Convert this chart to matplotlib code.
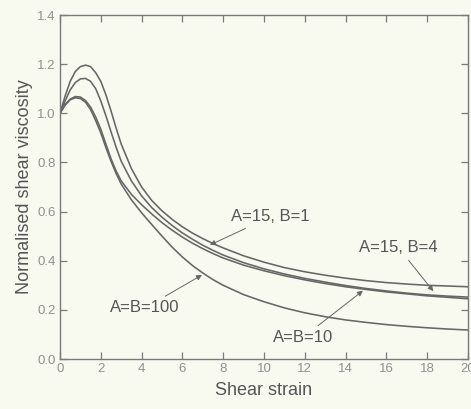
import matplotlib
matplotlib.use("Agg")
import matplotlib.pyplot as plt

plt.rcParams['font.family'] = ['Liberation Sans', 'DejaVu Sans']

# Shear strain sample positions
x_pts = [0, 0.25, 0.5, 0.75, 1.0, 1.25, 1.5, 1.75, 2.0, 2.25, 2.5, 2.75, 3.0,
         3.5, 4.0, 4.5, 5.0, 5.5, 6.0, 6.5, 7.0, 7.5, 8.0, 9.0, 10.0, 11.0,
         12.0, 13.0, 14.0, 15.0, 16.0, 17.0, 18.0, 19.0, 20.0]

# A=15, B=1
visc_a15_b1 = [1.0, 1.07, 1.13, 1.17, 1.19, 1.196, 1.19, 1.165, 1.13, 1.075, 1.01, 0.94, 0.875,
               0.775, 0.70, 0.645, 0.603, 0.568, 0.538, 0.512, 0.49, 0.47, 0.452, 0.42, 0.394, 0.372,
               0.355, 0.341, 0.329, 0.319, 0.311, 0.305, 0.300, 0.297, 0.294]
# A=15, B=4
visc_a15_b4 = [1.0, 1.05, 1.095, 1.125, 1.14, 1.142, 1.13, 1.10, 1.05, 0.99, 0.925, 0.862, 0.805,
               0.725, 0.664, 0.616, 0.577, 0.543, 0.513, 0.487, 0.463, 0.442, 0.423, 0.392, 0.367, 0.346,
               0.328, 0.313, 0.299, 0.287, 0.277, 0.268, 0.261, 0.256, 0.252]
# A=B=10
visc_a10_b10 = [1.0, 1.035, 1.058, 1.068, 1.066, 1.052, 1.025, 0.985, 0.935, 0.875, 0.815, 0.765, 0.725,
                0.67, 0.628, 0.59, 0.555, 0.524, 0.496, 0.471, 0.449, 0.429, 0.411, 0.382, 0.359, 0.339,
                0.322, 0.307, 0.294, 0.283, 0.273, 0.265, 0.257, 0.251, 0.245]
# A=B=100
visc_a100_b100 = [1.0, 1.033, 1.055, 1.063, 1.06, 1.045, 1.015, 0.97, 0.92, 0.86, 0.805, 0.755, 0.712,
                  0.648, 0.595, 0.547, 0.50, 0.455, 0.415, 0.38, 0.35, 0.323, 0.30, 0.262, 0.233, 0.208,
                  0.188, 0.172, 0.159, 0.149, 0.14, 0.133, 0.127, 0.122, 0.118]

x_ticks = [0, 2, 4, 6, 8, 10, 12, 14, 16, 18, 20]
y_ticks = [0.0, 0.2, 0.4, 0.6, 0.8, 1.0, 1.2, 1.4]

bg = '#f8faef'
line_c = '#666666'
axis_c = '#7a7a7a'
text_c = '#555555'

fig = plt.figure(figsize=(4.71, 4.09), dpi=100, facecolor=bg)
ax = fig.add_axes([60/471, 1-359/409, 408/471, 344/409], facecolor=bg)

for ys in (visc_a15_b1, visc_a15_b4, visc_a10_b10, visc_a100_b100):
    ax.plot(x_pts, ys, color=line_c, lw=1.15, solid_joinstyle='round')

ax.set_xlim(0, 20)
ax.set_ylim(0, 1.4)
ax.set_xticks(x_ticks)
ax.set_yticks(y_ticks)
ax.set_xticklabels([str(t) for t in x_ticks])
ax.set_yticklabels([f"{t:.1f}" for t in y_ticks])
ax.tick_params(direction='in', top=True, right=True, length=5, width=0.9,
               color=axis_c, labelcolor='#909090', labelsize=9.5, pad=3)
for s in ax.spines.values():
    s.set_color(axis_c)
    s.set_linewidth(1.0)

ax.set_xlabel('Shear strain', fontsize=13, color=text_c, labelpad=5)
ax.set_ylabel('Normalised shear viscosity', fontsize=13, color=text_c, labelpad=3)

arw = dict(arrowstyle='-|>', lw=0.7, color='#666666', mutation_scale=8, shrinkA=2, shrinkB=0)
fs = 12
ax.annotate('A=15, B=1', xy=(7.35, 0.464), xytext=(10.3, 0.578), fontsize=fs,
            color=text_c, ha='center', va='center', arrowprops=arw)
ax.annotate('A=15, B=4', xy=(18.3, 0.276), xytext=(16.6, 0.452), fontsize=fs,
            color=text_c, ha='center', va='center', arrowprops=arw)
ax.annotate('A=B=10', xy=(14.85, 0.278), xytext=(11.9, 0.087), fontsize=fs,
            color=text_c, ha='center', va='center', arrowprops=arw)
ax.annotate('A=B=100', xy=(6.96, 0.342), xytext=(4.17, 0.208), fontsize=fs,
            color=text_c, ha='center', va='center', arrowprops=arw)

fig.savefig('out.png', dpi=100, facecolor=bg)
